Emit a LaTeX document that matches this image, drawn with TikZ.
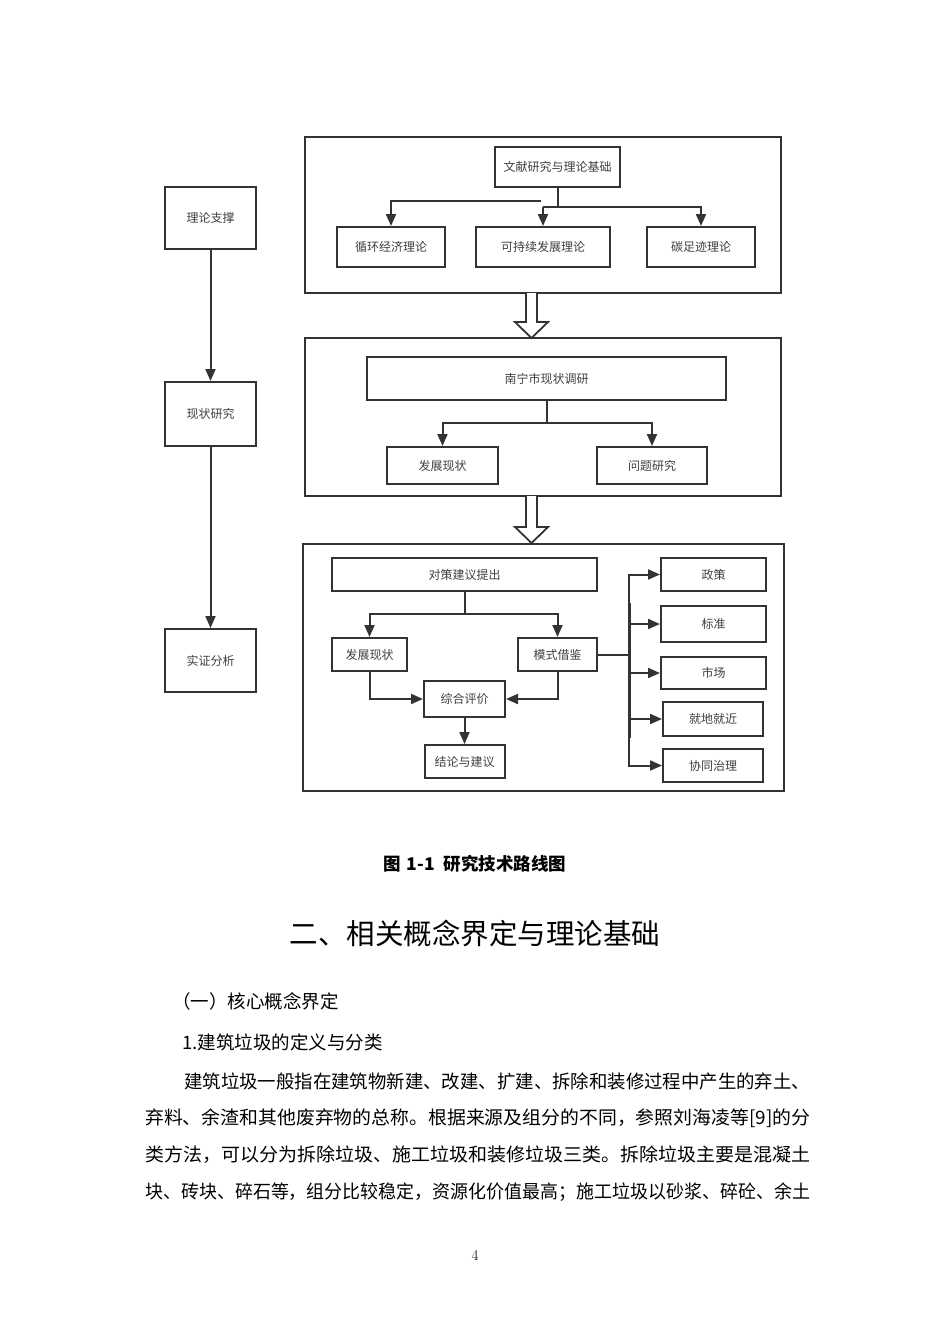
\documentclass[tikz,border=0pt]{standalone}
\usepackage{fontspec}
\usepackage{graphicx}
\newfontfamily\cjk{Noto Sans CJK SC}
\usetikzlibrary{arrows.meta,calc}
\definecolor{lnc}{HTML}{333333}
\definecolor{txc}{HTML}{404040}
\begin{document}
\begin{tikzpicture}[x=1pt,y=-1pt,
 box/.style={draw=lnc,line width=2pt,rectangle,inner sep=0pt,font=\cjk\fontsize{12}{14}\selectfont,text=txc},
 panel/.style={draw=lnc,line width=2pt,rectangle,inner sep=0pt},
 arr/.style={draw=lnc,line width=2pt,-{Triangle[width=10pt,length=12pt]}},
 plain/.style={draw=lnc,line width=2pt},
 trunk/.style={draw=lnc,line width=3pt},
 hollow/.style={draw=lnc,line width=1.8pt,fill=white,line join=miter},
 body/.style={inner sep=0pt,anchor=west,font=\cjk\fontsize{18.5}{20}\selectfont}]
\fill[white] (0,0) rectangle (950,1344);
\useasboundingbox (0,0) rectangle (950,1344);

% left column
\node[box,minimum width=91pt,minimum height=62pt] (l1) at (210.5,218) {理论支撑};
\node[box,minimum width=91pt,minimum height=64pt] (l2) at (210.5,414) {现状研究};
\node[box,minimum width=91pt,minimum height=63pt] (l3) at (210.5,660.5) {实证分析};
\draw[arr] (l1.south) -- (l2.north);
\draw[arr] (l2.south) -- (l3.north);

% panel 1
\node[panel,minimum width=476pt,minimum height=156pt] (p1) at (543,215) {};
\node[box,minimum width=125pt,minimum height=40pt] (t0) at (557.5,167) {文献研究与理论基础};
\node[box,minimum width=108pt,minimum height=40pt] (t1) at (391,247) {循环经济理论};
\node[box,minimum width=134pt,minimum height=40pt] (t2) at (543,247) {可持续发展理论};
\node[box,minimum width=108pt,minimum height=40pt] (t3) at (701,247) {碳足迹理论};
\coordinate (j1) at (543,207);
\coordinate (j0) at (541,201);
\draw[plain] (t0.south) |- (j1);
\draw[arr] (j1) -- (t2.north);
\draw[arr] (j1) -| (t3.north);
\draw[arr] (j0) -| (t1.north);

% panel 2
\node[panel,minimum width=476pt,minimum height=158pt] (p2) at (543,417) {};
\node[box,minimum width=359pt,minimum height=43pt] (s0) at (546.5,378.5) {南宁市现状调研};
\node[box,minimum width=111pt,minimum height=37pt] (s1) at (442.5,465.5) {发展现状};
\node[box,minimum width=110pt,minimum height=37pt] (s2) at (652,465.5) {问题研究};
\coordinate (j2) at (546.5,423);
\draw[plain] (s0.south) -- (j2);
\draw[arr] (j2) -| (s1.north);
\draw[arr] (j2) -| (s2.north);

% panel 3
\node[panel,minimum width=481pt,minimum height=247pt] (p3) at (543.5,667.5) {};
\node[box,minimum width=265pt,minimum height=33pt] (u0) at (464.5,574.5) {对策建议提出};
\node[box,minimum width=75pt,minimum height=33pt] (u1) at (369.5,654.5) {发展现状};
\node[box,minimum width=79pt,minimum height=33pt] (u2) at (557.5,654.5) {模式借鉴};
\node[box,minimum width=81pt,minimum height=36pt] (u3) at (464.5,699) {综合评价};
\node[box,minimum width=80pt,minimum height=33pt] (u4) at (464.5,761.5) {结论与建议};
\coordinate (j3) at (464.5,614);
\draw[plain] (u0.south) -- (j3);
\draw[arr] (j3) -| (u1.north);
\draw[arr] (j3) -| (u2.north);
\draw[arr] (u1.south) |- (u3.west);
\draw[arr] (u2.south) |- (u3.east);
\draw[arr] (u3.south) -- (u4.north);

\node[box,minimum width=105pt,minimum height=33pt] (v1) at (713.5,574.5) {政策};
\node[box,minimum width=105pt,minimum height=36pt] (v2) at (713.5,624) {标准};
\node[box,minimum width=105pt,minimum height=32pt] (v3) at (713.5,673) {市场};
\node[box,minimum width=100pt,minimum height=34pt] (v4) at (713,719) {就地就近};
\node[box,minimum width=100pt,minimum height=33pt] (v5) at (713,765.5) {协同治理};
\coordinate (tr) at (629,654.5);
\coordinate (trt) at (629,574.5);
\coordinate (trb) at (629,765.5);
\draw[plain] (u2.east) -- (tr);
\draw[plain] (trt) -- (trb);
\draw[trunk] ($(trt)+(0,28)$) -- ($(trb)+(0,-28)$);
\foreach \v in {v1,v2,v3,v4,v5} {\draw[arr] (tr) |- (\v.west);}

% hollow arrows between panels
\draw[hollow] (526,293) -- (526,322) -- (515,322) -- (531.5,338) -- (548,322) -- (537,322) -- (537,293);
\draw[hollow] (526,496) -- (526,527) -- (515,527) -- (531.5,543) -- (548,527) -- (537,527) -- (537,496);

% text below
\node[inner sep=0pt,font=\cjk\bfseries\fontsize{17.5}{20}\selectfont] (cap) at (475,864) {图\hspace{0.3em}1-1\hspace{0.5em}研究技术路线图};
\node[inner sep=0pt,font=\cjk\fontsize{28.5}{32}\selectfont] (h1) at (475,934) {二、相关概念界定与理论基础};
\node[body] (h2) at (172,1001) {（一）核心概念界定};
\node[body] (h3) at (182,1042) {1.建筑垃圾的定义与分类};
\node[body] (b1) at (184,1081) {\resizebox{626pt}{\height}{建筑垃圾一般指在建筑物新建、改建、扩建、拆除和装修过程中产生的弃土、}};
\node[body] (b2) at (145,1118) {\resizebox{665pt}{\height}{弃料、余渣和其他废弃物的总称。根据来源及组分的不同，参照刘海凌等[9]的分}};
\node[body] (b3) at (145,1155) {\resizebox{665pt}{\height}{类方法，可以分为拆除垃圾、施工垃圾和装修垃圾三类。拆除垃圾主要是混凝土}};
\node[body] (b4) at (145,1192) {\resizebox{665pt}{\height}{块、砖块、碎石等，组分比较稳定，资源化价值最高；施工垃圾以砂浆、碎砼、余土}};
\node[inner sep=0pt,font=\fontsize{15}{17}\selectfont] (pg) at (475,1255) {4};
\end{tikzpicture}
\end{document}
